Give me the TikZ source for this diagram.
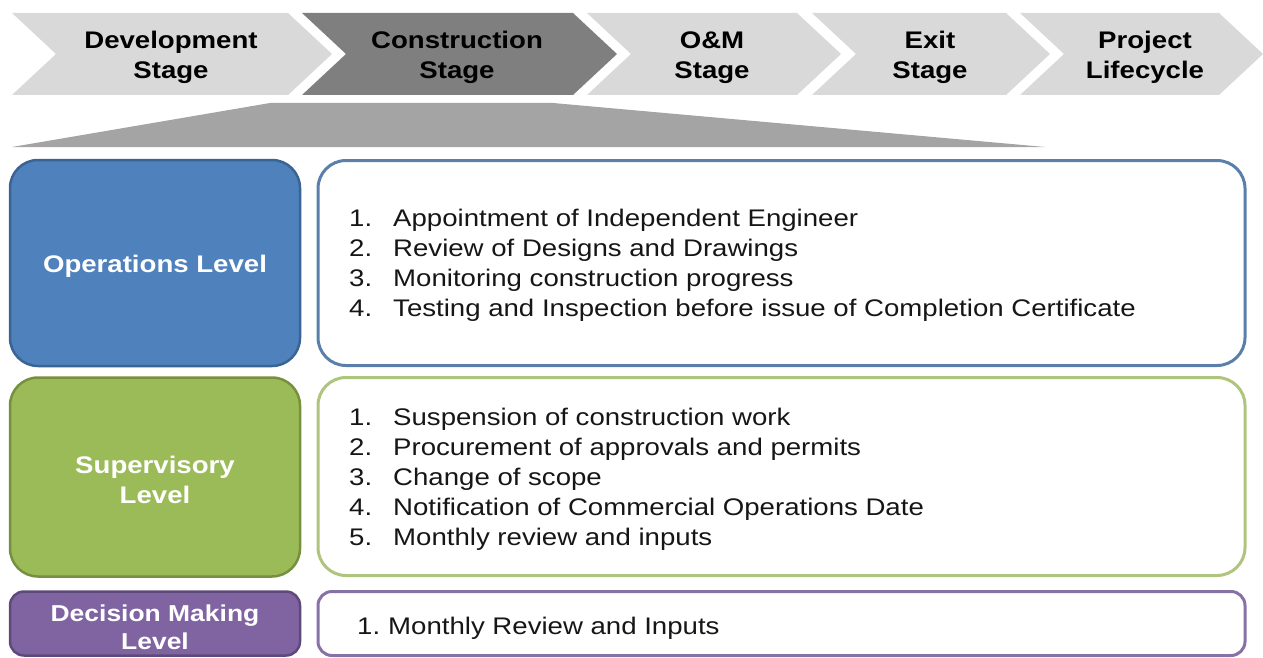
\documentclass[tikz,border=0pt]{standalone}
\usepackage{fontspec}
\setmainfont[FakeStretch=1.15]{Liberation Sans}
\definecolor{chevlight}{HTML}{D9D9D9}
\definecolor{chevdark}{HTML}{7F7F7F}
\definecolor{wedgegray}{HTML}{A4A4A4}
\definecolor{opsfill}{HTML}{4F81BD}
\definecolor{opsline}{HTML}{3A6493}
\definecolor{supfill}{HTML}{9BBB59}
\definecolor{supline}{HTML}{76903F}
\definecolor{decfill}{HTML}{8064A2}
\definecolor{decline}{HTML}{5E4A7A}
\definecolor{opsframe}{HTML}{5B7FAB}
\definecolor{supframe}{HTML}{AFC47C}
\definecolor{decframe}{HTML}{8672A4}
\definecolor{bodyink}{HTML}{161616}
\newcommand{\chevron}[3]{%
  \fill[#3] (#1,13) -- (#2,13) -- ({#2+44},54) -- (#2,95) -- (#1,95) -- ({#1+44},54) -- cycle;}
\newcommand{\itm}[2]{\makebox[#1][l]{#2}}
\begin{document}
\begin{tikzpicture}[x=1pt,y=-1pt,
  stagetext/.style={font=\bfseries\fontsize{24}{30}\selectfont, align=center, text=black, inner sep=0pt},
  levelbox/.style={rounded corners=28pt, line width=2.5pt, minimum width=290pt},
  levellabel/.style={font=\bfseries\fontsize{24}{30}\selectfont, text=white, align=center, inner sep=0pt},
  listbox/.style={rounded corners=28pt, line width=3pt, fill=white, minimum width=927pt},
  listtext/.style={anchor=west, align=left, inner sep=0pt, text=bodyink,
    font=\fontsize{24}{30}\selectfont}]
\useasboundingbox (0,0) rectangle (1263,658);

% stage chevrons
\chevron{12}{288}{chevlight}
\chevron{302}{573}{chevdark}
\chevron{587}{797}{chevlight}
\chevron{812}{1006}{chevlight}
\chevron{1020}{1219}{chevlight}
\node[stagetext] (dev)  at (171,57.5) {Development\\Stage};
\node[stagetext] (cons) at (457,57.5) {Construction\\Stage};
\node[stagetext] (om)   at (712,57.5) {O\&M\\Stage};
\node[stagetext] (exit) at (930,57.5) {Exit\\Stage};
\node[stagetext] (life) at (1145,57.5) {Project\\Lifecycle};

% widening wedge below the construction stage
\fill[wedgegray] (270,103) -- (553,103) -- (1045,147) -- (12,147) -- cycle;

% levels
\node[levelbox, fill=opsfill, draw=opsline, minimum height=206pt] (ops) at (155,263) {};
\node[levelbox, fill=supfill, draw=supline, minimum height=199pt] (sup) at (155,477) {};
\node[levelbox, rounded corners=14pt, fill=decfill, draw=decline, minimum height=64pt] (dec) at (155,623.5) {};
\node[levellabel, yshift=-3pt] (opslabel) at (ops.center) {Operations Level};
\node[levellabel, yshift=-2.5pt] (suplabel) at (sup.center) {Supervisory\\Level};
\node[levellabel, font=\bfseries\fontsize{23}{28}\selectfont, yshift=-4pt] (declabel) at (dec.center) {Decision Making\\Level};

% activities per level
\node[listbox, draw=opsframe, minimum height=205pt] (opsbox) at (781.5,263) {};
\node[listbox, draw=supframe, minimum height=198pt] (supbox) at (781.5,476.5) {};
\node[listbox, rounded corners=14pt, draw=decframe, minimum height=64pt] (decbox) at (781.5,623.5) {};

\node[listtext] (opslist) at (349,265.5) {%
  \itm{44pt}{1.}Appointment of Independent Engineer\\
  \itm{44pt}{2.}Review of Designs and Drawings\\
  \itm{44pt}{3.}Monitoring construction progress\\
  \itm{44pt}{4.}Testing and Inspection before issue of Completion Certificate};
\node[listtext] (suplist) at (349,479) {%
  \itm{44pt}{1.}Suspension of construction work\\
  \itm{44pt}{2.}Procurement of approvals and permits\\
  \itm{44pt}{3.}Change of scope\\
  \itm{44pt}{4.}Notification of Commercial Operations Date\\
  \itm{44pt}{5.}Monthly review and inputs};
\node[listtext] (declist) at (357,628) {%
  \itm{31pt}{1.}Monthly Review and Inputs};
\end{tikzpicture}
\end{document}
